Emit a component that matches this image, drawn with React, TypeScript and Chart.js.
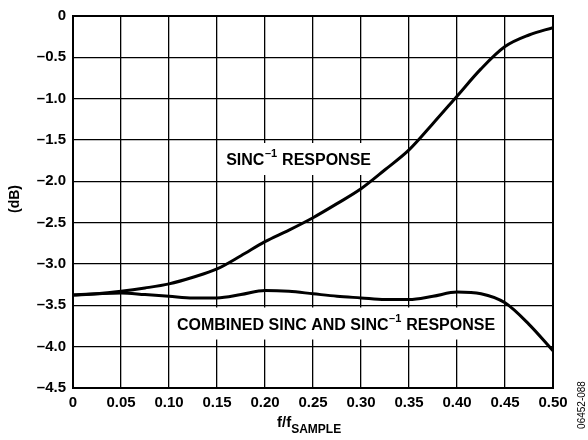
import React, { useEffect, useRef } from "react";
import { Chart, registerables } from "chart.js";
Chart.register(...registerables);

const freqs = [0, 0.025, 0.05, 0.075, 0.1, 0.125, 0.15, 0.175, 0.2, 0.225, 0.25, 0.275, 0.3, 0.325, 0.35, 0.375, 0.4, 0.425, 0.45, 0.475, 0.5];
const sincInverse = [-3.375, -3.36, -3.33, -3.29, -3.24, -3.16, -3.06, -2.9, -2.73, -2.59, -2.44, -2.27, -2.09, -1.86, -1.62, -1.3, -0.97, -0.64, -0.37, -0.23, -0.14];
const combined = [-3.375, -3.36, -3.35, -3.37, -3.39, -3.41, -3.41, -3.37, -3.32, -3.33, -3.36, -3.39, -3.41, -3.43, -3.43, -3.39, -3.34, -3.36, -3.47, -3.73, -4.05];

const xTitleMain = "f/f";
const xTitleSub = "SAMPLE";
const yTitle = "(dB)";
const sideLabel = "06452-088";
const label1 = { pre: "SINC", sup: "\u20131", post: " RESPONSE", x: 0.235, y: -1.73 };
const label2 = { pre: "COMBINED SINC AND SINC", sup: "\u20131", post: " RESPONSE", x: 0.274, y: -3.72 };

const FONT = "'Liberation Sans', Arial, Helvetica, sans-serif";

function drawLabel(ctx: CanvasRenderingContext2D, chart: any, l: any) {
  const xs = chart.scales.x, ys = chart.scales.y;
  const cx = xs.getPixelForValue(l.x);
  const cy = ys.getPixelForValue(l.y);
  const main = "bold 16px " + FONT;
  const small = "bold 11px " + FONT;
  ctx.save();
  ctx.font = main;
  const w1 = ctx.measureText(l.pre).width;
  const w3 = ctx.measureText(l.post).width;
  ctx.font = small;
  const w2 = ctx.measureText(l.sup).width + 1;
  const total = w1 + w2 + w3;
  const x0 = cx - total / 2;
  ctx.fillStyle = "#fff";
  ctx.fillRect(x0 - 4, cy - 16, total + 8, 32);
  ctx.fillStyle = "#000";
  ctx.textBaseline = "alphabetic";
  ctx.textAlign = "left";
  ctx.font = main;
  ctx.fillText(l.pre, x0, cy + 6);
  ctx.font = small;
  ctx.fillText(l.sup, x0 + w1 + 0.5, cy - 2);
  ctx.font = main;
  ctx.fillText(l.post, x0 + w1 + w2, cy + 6);
  ctx.restore();
}

const decor = {
  id: "decor",
  beforeDatasetsDraw(chart: any) {
    const ctx = chart.ctx;
    drawLabel(ctx, chart, label1);
    drawLabel(ctx, chart, label2);
  },
  afterDraw(chart: any) {
    const ctx = chart.ctx;
    const a = chart.chartArea;
    ctx.save();
    ctx.strokeStyle = "#000";
    ctx.lineWidth = 2;
    ctx.strokeRect(a.left, a.top, a.right - a.left, a.bottom - a.top);
    // x title
    ctx.fillStyle = "#000";
    ctx.textBaseline = "alphabetic";
    ctx.font = "bold 15px " + FONT;
    const wm = ctx.measureText(xTitleMain).width;
    ctx.font = "bold 12px " + FONT;
    const ws = ctx.measureText(xTitleSub).width;
    const x0 = 277;
    ctx.font = "bold 15px " + FONT;
    ctx.fillText(xTitleMain, x0, 427);
    ctx.font = "bold 12px " + FONT;
    ctx.fillText(xTitleSub, x0 + wm, 433);
    // y title
    ctx.save();
    ctx.translate(15, 199);
    ctx.rotate(-Math.PI / 2);
    ctx.textAlign = "center";
    ctx.textBaseline = "middle";
    ctx.font = "bold 14px " + FONT;
    ctx.fillText(yTitle, 0, 0);
    ctx.restore();
    // side label
    ctx.save();
    ctx.translate(582, 405);
    ctx.rotate(-Math.PI / 2);
    ctx.textAlign = "center";
    ctx.textBaseline = "middle";
    ctx.font = "10px " + FONT;
    ctx.fillText(sideLabel, 0, 0);
    ctx.restore();
    ctx.restore();
  },
};

export default function App() {
  const ref = useRef<HTMLCanvasElement>(null);
  useEffect(() => {
    document.body.style.margin = "0";
    const ctx = ref.current!.getContext("2d")!;
    const chart = new Chart(ctx, {
      type: "line",
      data: {
        datasets: [
          {
            data: freqs.map((f, i) => ({ x: f, y: sincInverse[i] })),
            borderColor: "#000",
            borderWidth: 3,
            pointRadius: 0,
            cubicInterpolationMode: "monotone",
            fill: false,
          },
          {
            data: freqs.map((f, i) => ({ x: f, y: combined[i] })),
            borderColor: "#000",
            borderWidth: 3,
            pointRadius: 0,
            cubicInterpolationMode: "monotone",
            fill: false,
          },
        ],
      },
      options: {
        animation: false,
        responsive: false,
        maintainAspectRatio: false,
        layout: { padding: { left: 0, top: 12, right: 35, bottom: 0 } },
        plugins: { legend: { display: false }, tooltip: { enabled: false } },
        scales: {
          x: {
            type: "linear",
            min: 0,
            max: 0.5,
            afterFit: (s: any) => { s.height = 52; },
            afterBuildTicks: (s: any) => {
              s.ticks = Array.from({ length: 11 }, (_, i) => ({ value: +(i * 0.05).toFixed(2) }));
            },
            grid: { color: "#000", lineWidth: 1.3, drawTicks: false },
            border: { color: "#000", width: 2 },
            ticks: {
              color: "#000",
              padding: 6,
              maxRotation: 0,
              autoSkip: false,
              font: { family: FONT, size: 15, weight: "bold" },
              callback: (v: any) => (v === 0 ? "0" : Number(v).toFixed(2)),
            },
          },
          y: {
            type: "linear",
            min: -4.5,
            max: 0,
            afterFit: (s: any) => { s.width = 73; },
            afterBuildTicks: (s: any) => {
              s.ticks = Array.from({ length: 10 }, (_, i) => ({ value: +(-i * 0.5).toFixed(1) }));
            },
            grid: { color: "#000", lineWidth: 1.3, drawTicks: false },
            border: { color: "#000", width: 2 },
            ticks: {
              color: "#000",
              padding: 7,
              autoSkip: false,
              font: { family: FONT, size: 15, weight: "bold" },
              callback: (v: any) => (v === 0 ? "0" : "\u2013" + Math.abs(Number(v)).toFixed(1)),
            },
          },
        },
      },
      plugins: [decor],
    });
    return () => chart.destroy();
  }, []);
  return (
    <div style={{ position: "relative", width: 588, height: 440 }}>
      <canvas ref={ref} width={588} height={440} style={{ display: "block" }} />
    </div>
  );
}
